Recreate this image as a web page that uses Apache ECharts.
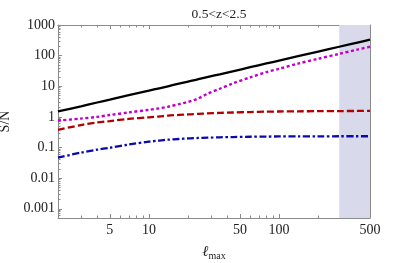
<!DOCTYPE html>
<html><head><meta charset="utf-8">
<script src="https://cdn.jsdelivr.net/npm/echarts@6/dist/echarts.min.js"></script>
<style>html,body{margin:0;padding:0;background:#fff}#c{width:396px;height:263px}</style>
</head><body><div id="c"></div>
<script>
const ell = [2,3,4,5,7,10,12,14,17,20,22,24,28,35,44,60,80,100,140,200,290,400,500];
const snTotal = [1.5,2.2,2.95,3.65,5.1,7.2,8.6,10,12.1,14.2,15.6,17,19.8,24.6,30.8,41.8,55.5,69,96,136,195,267,333];
const snMagenta = [0.76,0.88,1.0,1.15,1.4,1.7,1.9,2.15,2.6,3.1,3.5,4.0,5.6,8.3,12.3,19.5,29,37,55,79,114,158,195];
const snRed = [0.38,0.54,0.66,0.73,0.86,0.97,1.03,1.1,1.16,1.2,1.23,1.26,1.3,1.35,1.39,1.44,1.48,1.5,1.52,1.54,1.55,1.56,1.56];
const snBlue = [0.047,0.068,0.085,0.098,0.125,0.155,0.168,0.18,0.19,0.198,0.202,0.205,0.21,0.216,0.22,0.225,0.228,0.23,0.231,0.232,0.233,0.233,0.233];
const xMajor = [5,10,50,100,500];
const xMinor = [2,3,4,6,7,8,9,20,30,40,60,70,80,90,200,300,400];
const yMajor = [0.001,0.01,0.1,1,10,100,1000];
const yMinor = [];
[0.0001,0.001,0.01,0.1,1,10,100].forEach(d=>{for(let k=2;k<=9;k++){const v=+(d*k).toPrecision(3); if(v>=0.0005&&v<=1000) yMinor.push(v);}});
const shadeRange = [290, 500];
const titleText = '0.5<z<2.5';

const serif = 'Liberation Serif';
const axisCol = '#8a8a8a';
function xAx(pos, ticks, len, labels, line){
  return {type:'log', logBase:10, min:2, max:500, position:pos, gridIndex:0,
    axisLine:{show:line, lineStyle:{color:axisCol, width:1}},
    axisTick:{show:true, inside:true, length:len, customValues:ticks, lineStyle:{color:axisCol}},
    axisLabel:{show:labels, customValues:xMajor, color:'#222', fontFamily:serif, fontSize:14, margin:5},
    splitLine:{show:false}, minorTick:{show:false},
    name: (labels? '{l|ℓ}{s|max}' : ''), nameLocation:'middle', nameGap:25,
    nameTextStyle:{rich:{l:{fontFamily:serif, fontStyle:'italic', fontSize:15, color:'#222'}, s:{fontFamily:serif, fontSize:10, color:'#222', padding:[8,0,0,0]}}}
  };
}
function yAx(pos, ticks, len, labels, line){
  return {type:'log', logBase:10, min:0.0005, max:1000, position:pos, gridIndex:0,
    axisLine:{show:line, lineStyle:{color:axisCol, width:1}},
    axisTick:{show:true, inside:true, length:len, customValues:ticks, lineStyle:{color:axisCol}},
    axisLabel:{show:labels, customValues:yMajor, color:'#222', fontFamily:serif, fontSize:14, margin:3,
      formatter:v=>String(+v.toPrecision(3))},
    splitLine:{show:false}, minorTick:{show:false},
    name:(labels?'S/N':''), nameLocation:'middle', nameGap:43, nameRotate:90,
    nameTextStyle:{fontFamily:serif, fontSize:14, color:'#222'}
  };
}
const toPts = arr => ell.map((x,i)=>[x,arr[i]]);
const chart = echarts.init(document.getElementById('c'), null, {renderer:'canvas'});
chart.setOption({
  animation:false,
  title:{text:titleText, left:214, textAlign:'center', top:2, textStyle:{fontFamily:serif, fontSize:13.5, fontWeight:'normal', color:'#222'}},
  grid:{left:58, right:26, top:25, bottom:45, outerBoundsMode:'none', containLabel:false},
  xAxis:[xAx('bottom', xMajor, 4, true, true), xAx('bottom', xMinor, 2.5, false, false), xAx('top', xMajor, 4, false, true), xAx('top', xMinor, 2.5, false, false)],
  yAxis:[yAx('left', yMajor, 4, true, true), yAx('left', yMinor, 2.5, false, false), yAx('right', yMajor, 4, false, true), yAx('right', yMinor, 2.5, false, false)],
  series:[
    {type:'line', data:toPts(snBlue), showSymbol:false, smooth:0.3, z:3,
      lineStyle:{color:'#0a0aa8', width:2.3, type:[7,2.5,2.5,2.5]},
      markArea:{silent:true, itemStyle:{color:'#d9d9ec'}, data:[[{xAxis:shadeRange[0]},{xAxis:shadeRange[1]}]]}},
    {type:'line', data:toPts(snRed), showSymbol:false, smooth:0.3, z:3, lineStyle:{color:'#b00000', width:2.3, type:[7,3]}},
    {type:'line', data:toPts(snMagenta), showSymbol:false, smooth:0.3, z:3, lineStyle:{color:'#c000c8', width:2.4, type:[3,2.5]}},
    {type:'line', data:toPts(snTotal), showSymbol:false, smooth:0.3, z:3, lineStyle:{color:'#000', width:2.3}}
  ]
});
</script></body></html>
